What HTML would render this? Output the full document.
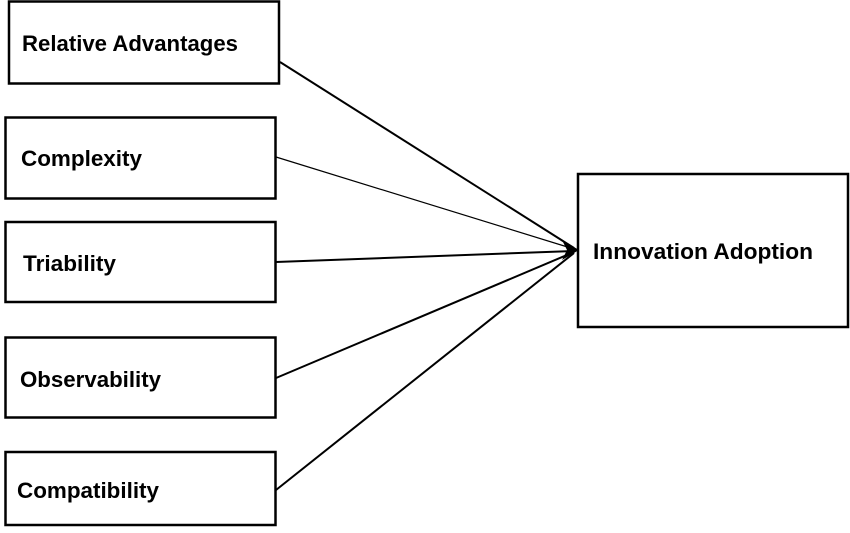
<!DOCTYPE html>
<html><head><style>
body{margin:0;width:850px;height:528px;background:#fff;overflow:hidden;}
</style></head><body>
<svg width="850" height="528" xmlns="http://www.w3.org/2000/svg" style="font-family:'Liberation Sans',sans-serif;font-weight:bold;font-size:22px">
<g fill="#fff" stroke="#000" stroke-width="2.5">
<rect x="9" y="1.5" width="270" height="82"/>
<rect x="5.5" y="117.5" width="270" height="81"/>
<rect x="5.5" y="222" width="270" height="80"/>
<rect x="5.5" y="337.5" width="270" height="80"/>
<rect x="5.5" y="452" width="270" height="73"/>
<rect x="578" y="174" width="270" height="153"/>
</g>
<g stroke="#000" stroke-width="2" fill="none">
<line x1="280" y1="62" x2="574" y2="248"/>
<line x1="276" y1="157" x2="574" y2="249" stroke-width="1.2"/>
<line x1="276" y1="262" x2="574" y2="251"/>
<line x1="276" y1="378" x2="574" y2="252"/>
<line x1="276" y1="490" x2="574" y2="253"/>
</g>
<path d="M579,250 L562,240 L567,250 L562,260 Z" fill="#000"/>
<g fill="#000">
<text x="22" y="51" textLength="216" lengthAdjust="spacingAndGlyphs">Relative Advantages</text>
<text x="21" y="166" textLength="121" lengthAdjust="spacingAndGlyphs">Complexity</text>
<text x="23" y="271" textLength="93" lengthAdjust="spacingAndGlyphs">Triability</text>
<text x="20" y="387" textLength="141" lengthAdjust="spacingAndGlyphs">Observability</text>
<text x="17" y="498" textLength="142" lengthAdjust="spacingAndGlyphs">Compatibility</text>
<text x="593" y="259" textLength="220" lengthAdjust="spacingAndGlyphs">Innovation Adoption</text>
</g>
</svg>
</body></html>
